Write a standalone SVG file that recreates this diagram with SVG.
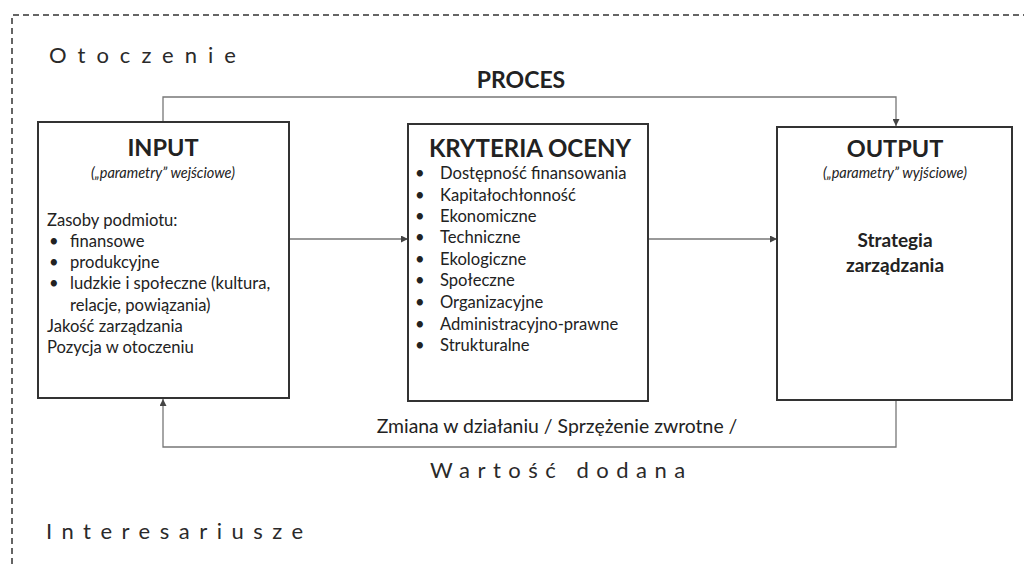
<svg xmlns="http://www.w3.org/2000/svg" width="1024" height="564" viewBox="0 0 1024 564">
<defs>
<marker id="arr" viewBox="0 0 10 10" refX="10" refY="5" markerWidth="7" markerHeight="7" markerUnits="userSpaceOnUse" orient="auto">
<path d="M0,0 L10,5 L0,10 z" fill="#444"/>
</marker>
<style>
text{font-family:Lato,"Liberation Sans",sans-serif;fill:#222}
.box{fill:#fff;stroke:#333;stroke-width:2}
.title{font-size:23.5px;font-weight:bold;text-anchor:middle}
.sub{font-size:14.5px;font-style:italic;text-anchor:middle}
.item{font-size:16.6px}
.spaced{font-size:22px;fill:#2a2a2a}
.conn{fill:none;stroke:#777;stroke-width:1.3}
</style>
</defs>
<rect width="1024" height="564" fill="#fff"/>
<path d="M12,564 L12,15 L1024,15" fill="none" stroke="#333" stroke-width="1.5" stroke-dasharray="6,4"/>
<text class="spaced" x="49" y="63" style="letter-spacing:11px">Otoczenie</text>
<text x="521" y="88" style="font-size:23px;font-weight:bold;text-anchor:middle">PROCES</text>
<g id="connectors">
<path class="conn" d="M163,122 L163,97 L896,97 L896,126" marker-end="url(#arr)"/>
<path class="conn" d="M289,239 L408,239" marker-end="url(#arr)"/>
<path class="conn" d="M648,239 L777,239" marker-end="url(#arr)"/>
<path class="conn" d="M896,400 L896,447 L163,447 L163,399" marker-end="url(#arr)"/>
</g>
<g id="input">
<rect class="box" x="38" y="122" width="251" height="276"/>
<text class="title" x="163" y="156">INPUT</text>
<text class="sub" x="163" y="178">(„parametry” wejściowe)</text>
<text class="item" x="47" y="226">Zasoby podmiotu:</text>
<text class="item" x="49" y="247">•</text><text class="item" x="70" y="247">finansowe</text>
<text class="item" x="49" y="268">•</text><text class="item" x="70" y="268">produkcyjne</text>
<text class="item" x="49" y="289">•</text><text class="item" x="70" y="289">ludzkie i społeczne (kultura,</text>
<text class="item" x="70" y="311">relacje, powiązania)</text>
<text class="item" x="47" y="332">Jakość zarządzania</text>
<text class="item" x="47" y="353">Pozycja w otoczeniu</text>
</g>
<g id="kryteria">
<rect class="box" x="408" y="124" width="240" height="277"/>
<text class="title" x="530" y="157" style="font-size:24px">KRYTERIA OCENY</text>
<text class="item" x="415" y="179">•</text><text class="item" x="440" y="179">Dostępność finansowania</text>
<text class="item" x="415" y="201">•</text><text class="item" x="440" y="201">Kapitałochłonność</text>
<text class="item" x="415" y="222">•</text><text class="item" x="440" y="222">Ekonomiczne</text>
<text class="item" x="415" y="243">•</text><text class="item" x="440" y="243">Techniczne</text>
<text class="item" x="415" y="265">•</text><text class="item" x="440" y="265">Ekologiczne</text>
<text class="item" x="415" y="286">•</text><text class="item" x="440" y="286">Społeczne</text>
<text class="item" x="415" y="308">•</text><text class="item" x="440" y="308">Organizacyjne</text>
<text class="item" x="415" y="330">•</text><text class="item" x="440" y="330">Administracyjno-prawne</text>
<text class="item" x="415" y="351">•</text><text class="item" x="440" y="351">Strukturalne</text>
</g>
<g id="output">
<rect class="box" x="777" y="127" width="235" height="273"/>
<text class="title" x="895" y="157">OUTPUT</text>
<text class="sub" x="895" y="178">(„parametry” wyjściowe)</text>
<text x="895" y="247" style="font-size:19px;font-weight:bold;text-anchor:middle">Strategia</text>
<text x="895" y="272" style="font-size:19px;font-weight:bold;text-anchor:middle">zarządzania</text>
</g>
<text x="557" y="433" style="font-size:19.4px;text-anchor:middle">Zmiana w działaniu / Sprzężenie zwrotne /</text>
<text class="spaced" x="430" y="478" style="letter-spacing:7.5px">Wartość dodana</text>
<text class="spaced" x="46" y="539" style="letter-spacing:9.5px">Interesariusze</text>
</svg>
